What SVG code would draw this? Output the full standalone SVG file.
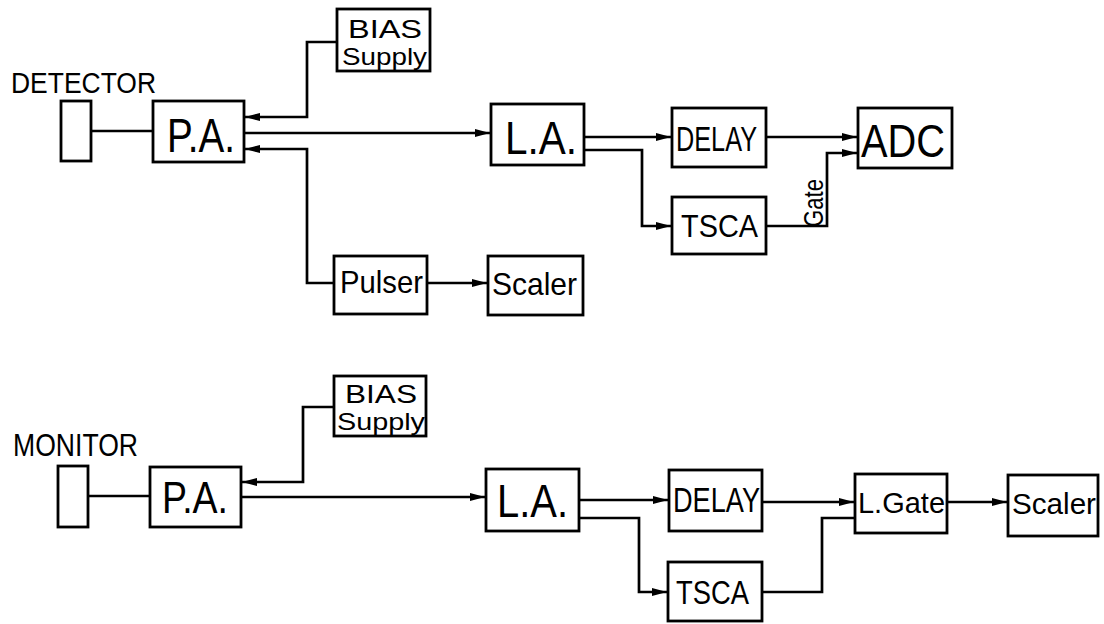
<svg xmlns="http://www.w3.org/2000/svg" width="1104" height="624" viewBox="0 0 1104 624">
<style>
.box{fill:#fff;stroke:#000;stroke-width:2.8}
.ln{fill:none;stroke:#000;stroke-width:2.7}
.t{font-family:"Liberation Sans",Arial,sans-serif;fill:#000}
</style>
<defs>
<marker id="ah" markerUnits="userSpaceOnUse" markerWidth="16" markerHeight="10" refX="15" refY="5" orient="auto">
<path d="M0,1 L15,5 L0,9 z" fill="#000"/>
</marker>
</defs>
<rect width="1104" height="624" fill="#fff"/>
<g id="connectors">
<line class="ln" x1="91" y1="131" x2="153" y2="131"/>
<path class="ln" d="M337,42 H307 V117 H245" marker-end="url(#ah)"/>
<line class="ln" x1="244" y1="133" x2="490" y2="133" marker-end="url(#ah)"/>
<path class="ln" d="M334,283 H307 V149 H245" marker-end="url(#ah)"/>
<line class="ln" x1="427" y1="283" x2="487" y2="283" marker-end="url(#ah)"/>
<line class="ln" x1="584" y1="137" x2="671" y2="137" marker-end="url(#ah)"/>
<path class="ln" d="M584,150 H642 V226 H671" marker-end="url(#ah)"/>
<line class="ln" x1="766" y1="137" x2="857" y2="137" marker-end="url(#ah)"/>
<path class="ln" d="M766,226 H827 V153 H857" marker-end="url(#ah)"/>
<line class="ln" x1="88" y1="496" x2="150" y2="496"/>
<path class="ln" d="M334,407 H303 V482 H242" marker-end="url(#ah)"/>
<line class="ln" x1="241" y1="497" x2="485" y2="497" marker-end="url(#ah)"/>
<line class="ln" x1="579" y1="500" x2="668" y2="500" marker-end="url(#ah)"/>
<path class="ln" d="M579,518 H639 V592 H667" marker-end="url(#ah)"/>
<line class="ln" x1="762" y1="502" x2="854" y2="502" marker-end="url(#ah)"/>
<path class="ln" d="M762,592 H822 V518 H855"/>
<line class="ln" x1="947" y1="502" x2="1007" y2="502" marker-end="url(#ah)"/>
<text class="t" font-size="27" transform="translate(823,227) rotate(-90)" textLength="48" lengthAdjust="spacingAndGlyphs">Gate</text>
</g>
<g id="detector-label"><text class="t" x="11" y="93" font-size="30" textLength="145" lengthAdjust="spacingAndGlyphs">DETECTOR</text></g>
<g id="detector"><rect class="box" x="61" y="101" width="30" height="60"/></g>
<g id="pa1"><rect class="box" x="153" y="101" width="91" height="61"/><text class="t" x="167" y="152" font-size="48" textLength="68" lengthAdjust="spacingAndGlyphs">P.A.</text></g>
<g id="bias1"><rect class="box" x="337" y="9" width="93" height="62"/><text class="t" x="348" y="38" font-size="26" textLength="74" lengthAdjust="spacingAndGlyphs">BIAS</text><text class="t" x="342" y="65" font-size="24" textLength="85" lengthAdjust="spacingAndGlyphs">Supply</text></g>
<g id="la1"><rect class="box" x="491" y="104" width="93" height="61"/><text class="t" x="505" y="154" font-size="47" textLength="72" lengthAdjust="spacingAndGlyphs">L.A.</text></g>
<g id="delay1"><rect class="box" x="672" y="108" width="94" height="59"/><text class="t" x="676" y="151" font-size="35" textLength="81" lengthAdjust="spacingAndGlyphs">DELAY</text></g>
<g id="tsca1"><rect class="box" x="672" y="197" width="94" height="57"/><text class="t" x="681" y="237" font-size="31" textLength="77" lengthAdjust="spacingAndGlyphs">TSCA</text></g>
<g id="adc"><rect class="box" x="858" y="108" width="94" height="60"/><text class="t" x="861" y="157" font-size="47" textLength="84" lengthAdjust="spacingAndGlyphs">ADC</text></g>
<g id="pulser"><rect class="box" x="334" y="256" width="93" height="58"/><text class="t" x="340" y="293" font-size="32" textLength="83" lengthAdjust="spacingAndGlyphs">Pulser</text></g>
<g id="scaler1"><rect class="box" x="488" y="256" width="95" height="59"/><text class="t" x="492" y="295" font-size="32" textLength="85" lengthAdjust="spacingAndGlyphs">Scaler</text></g>
<g id="monitor-label"><text class="t" x="13" y="456" font-size="31" textLength="125" lengthAdjust="spacingAndGlyphs">MONITOR</text></g>
<g id="monitor"><rect class="box" x="58" y="466" width="30" height="61"/></g>
<g id="pa2"><rect class="box" x="150" y="467" width="91" height="60"/><text class="t" x="162" y="513" font-size="44" textLength="66" lengthAdjust="spacingAndGlyphs">P.A.</text></g>
<g id="bias2"><rect class="box" x="334" y="376" width="92" height="60"/><text class="t" x="345" y="403" font-size="26" textLength="72" lengthAdjust="spacingAndGlyphs">BIAS</text><text class="t" x="337" y="430" font-size="24" textLength="88" lengthAdjust="spacingAndGlyphs">Supply</text></g>
<g id="la2"><rect class="box" x="486" y="469" width="93" height="62"/><text class="t" x="497" y="517" font-size="47" textLength="71" lengthAdjust="spacingAndGlyphs">L.A.</text></g>
<g id="delay2"><rect class="box" x="669" y="470" width="93" height="61"/><text class="t" x="673" y="512" font-size="35" textLength="87" lengthAdjust="spacingAndGlyphs">DELAY</text></g>
<g id="tsca2"><rect class="box" x="668" y="562" width="94" height="59"/><text class="t" x="676" y="604" font-size="33" textLength="73" lengthAdjust="spacingAndGlyphs">TSCA</text></g>
<g id="lgate"><rect class="box" x="855" y="474" width="92" height="59"/><text class="t" x="858" y="513" font-size="30" textLength="87" lengthAdjust="spacingAndGlyphs">L.Gate</text></g>
<g id="scaler2"><rect class="box" x="1008" y="475" width="90" height="61"/><text class="t" x="1012" y="514" font-size="30" textLength="84" lengthAdjust="spacingAndGlyphs">Scaler</text></g>
</svg>
